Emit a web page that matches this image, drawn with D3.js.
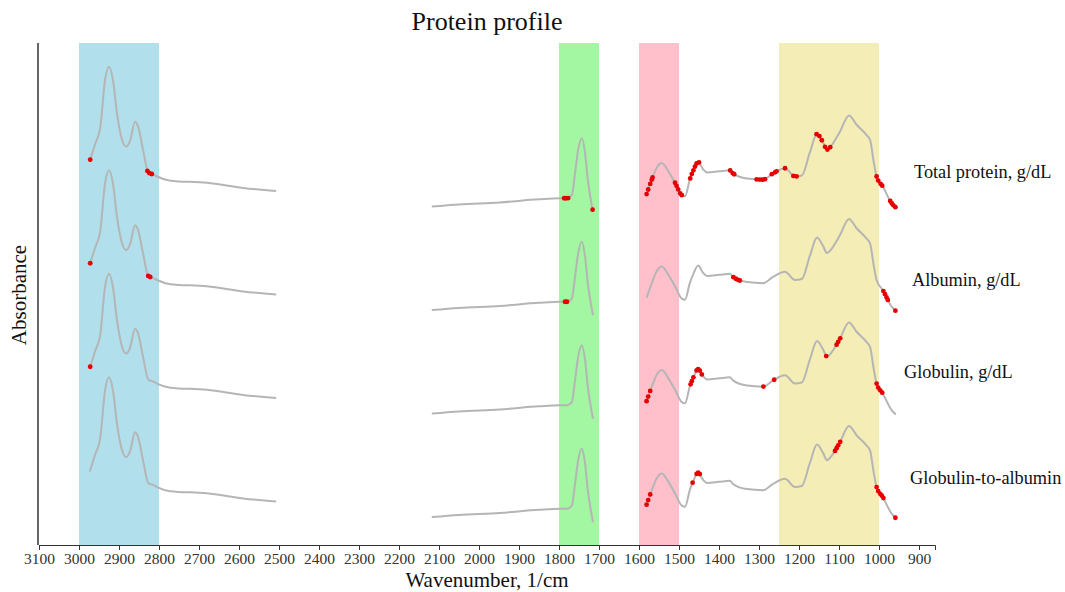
<!DOCTYPE html>
<html>
<head>
<meta charset="utf-8">
<script src="https://cdn.jsdelivr.net/npm/d3@7"></script>
<style>
	body { margin: 0; background: #fff; }
	svg text { font-family: "Liberation Serif", "Times New Roman", serif; fill: #111; }
	.x_axis text { font-size: 15.5px; fill: #333; }
	.x_axis path, .x_axis line { stroke: #333; }
</style>
</head>
<body>
<svg id="viz"></svg>
<script>
/* data */
var seriesNames = ["Total protein, g/dL", "Albumin, g/dL", "Globulin, g/dL", "Globulin-to-albumin"];

// spectrum pieces (wavenumber, absorbance of the lowest trace)
var wnRegion1 = [2973, 2960, 2947, 2935, 2925, 2915, 2905, 2892, 2882, 2872, 2860, 2852, 2840, 2827, 2815, 2805, 2772, 2680, 2590, 2507];
var absRegion1 = [0.71, 0.87, 1.03, 1.49, 1.62, 1.49, 1.17, 0.91, 0.85, 0.91, 1.09, 1.04, 0.82, 0.60, 0.58, 0.56, 0.52, 0.50, 0.45, 0.42];

var wnRegion2 = [2118, 2050, 1948, 1850, 1798, 1780, 1768, 1760, 1752, 1743, 1735, 1728, 1715];
var absRegion2 = [0.27, 0.29, 0.31, 0.34, 0.35, 0.35, 0.38, 0.59, 0.82, 0.93, 0.79, 0.53, 0.22];

var wnRegion3 = [1581, 1568, 1555, 1543, 1525, 1510, 1493, 1485, 1473, 1464, 1452, 1440, 1430, 1400, 1373, 1365, 1330, 1290, 1265, 1235, 1210, 1193, 1173, 1155, 1140, 1130, 1123, 1098, 1075, 1056, 1031, 1022, 1014, 1006, 990, 968, 958];
var absRegion3 = [0.39, 0.53, 0.65, 0.69, 0.60, 0.50, 0.38, 0.37, 0.53, 0.62, 0.70, 0.63, 0.60, 0.61, 0.62, 0.59, 0.54, 0.53, 0.59, 0.64, 0.56, 0.57, 0.79, 0.97, 0.89, 0.82, 0.84, 0.99, 1.15, 1.06, 0.96, 0.91, 0.72, 0.56, 0.46, 0.30, 0.26];

// vertical offset of each trace (absorbance units)
var traceOffsets = [3, 2, 1, 0];

// highlighted wavenumbers per series
var dotsTotal = [2972, 2829, 2824, 2818, 1787, 1782, 1777, 1716, 1581, 1577, 1572, 1568, 1566, 1510, 1506, 1502, 1497, 1493, 1472, 1468, 1464, 1460, 1456, 1450, 1372, 1366, 1362, 1306, 1298, 1291, 1285, 1268, 1260, 1256, 1235, 1214, 1206, 1156, 1149, 1143, 1135, 1129, 1122, 1006, 1002, 996, 992, 972, 968, 964, 959];
var dotsAlbumin = [2972, 2827, 2822, 1785, 1780, 1364, 1358, 1352, 1348, 989, 985, 981, 978, 959];
var dotsGlobulin = [2972, 1581, 1577, 1572, 1471, 1468, 1464, 1456, 1452, 1448, 1443, 1289, 1262, 1132, 1106, 1102, 1097, 1006, 1002, 997, 992];
var dotsRatio = [1581, 1577, 1572, 1466, 1456, 1452, 1448, 1110, 1106, 1102, 1097, 1006, 1002, 997, 993, 989, 959];
var dotSets = [dotsTotal, dotsAlbumin, dotsGlobulin, dotsRatio];

// shaded bands [from, to]
var bandRanges = [[3000, 2800], [1800, 1700], [1600, 1500], [1250, 1000]];
var bandColors = ["#b2dfec", "#a3f7a3", "#ffc0cb", "#f4edb5"];

var xTicks = d3.range(3100, 899, -100);

/* layout */
var margin = { top: 43, right: 130, bottom: 47, left: 38 },
	W = 1065, H = 592,
	plotRight = W - margin.right,
	plotBottom = H - margin.bottom;
var labelPos = [[914, 172], [912, 280], [904, 372], [910, 478]];

var svg = d3.select('#viz')
	.attr('width', W)
	.attr('height', H);

var x = d3.scaleLinear()
	.domain([3100, 860])
	.range([margin.left + 1, plotRight]);

var y = d3.scaleLinear()
	.domain([0, 4.85])
	.range([plotBottom, margin.top]);

// bands
svg.append("g").selectAll("rect")
	.data(bandRanges)
	.enter().append("rect")
	.attr("x", function(d){ return x(d[0]); })
	.attr("width", function(d){ return x(d[1]) - x(d[0]); })
	.attr("y", margin.top)
	.attr("height", plotBottom - margin.top)
	.attr("fill", function(d, i){ return bandColors[i]; });

var regions = [
	d3.zip(wnRegion1, absRegion1),
	d3.zip(wnRegion2, absRegion2),
	d3.zip(wnRegion3, absRegion3)
];

var line = d3.line()
	.curve(d3.curveMonotoneX);

// find y on a drawn path for a given pixel x
var yOnPath = function(node, px){
	var lo = 0, hi = node.getTotalLength();
	for (var k = 0; k < 40; k++) {
		var mid = (lo + hi) / 2;
		if (node.getPointAtLength(mid).x < px) lo = mid; else hi = mid;
	}
	return node.getPointAtLength((lo + hi) / 2).y;
}

var traces = svg.append("g").attr("class", "traces");

traceOffsets.forEach(function(off, i){
	var g = traces.append("g");
	var paths = regions.map(function(reg){
		return g.append("path")
			.attr("d", line(reg.map(function(p){ return [x(p[0]), y(p[1] + off)]; })))
			.attr("fill", "none")
			.attr("stroke", "#b5b5b5")
			.attr("stroke-width", 2)
			.node();
	});

	var dots = dotSets[i].map(function(w){
		var r = w > 2400 ? 0 : (w > 1650 ? 1 : 2);
		var px = x(w);
		return [px, yOnPath(paths[r], px)];
	});

	g.selectAll("circle")
		.data(dots)
		.enter().append("circle")
		.attr("cx", function(d){ return d[0]; })
		.attr("cy", function(d){ return d[1]; })
		.attr("r", 2.4)
		.attr("fill", "#e60000");
});

// axes
var xAxis = d3.axisBottom(x)
	.tickValues(xTicks)
	.tickFormat(d3.format("d"))
	.tickSizeOuter(0)
	.tickSize(5)
	.tickPadding(3);

svg.append("g")
	.attr("class", "x_axis")
	.attr("transform", "translate(0," + plotBottom + ")")
	.call(xAxis);

svg.append("line")
	.attr("x1", margin.left).attr("x2", margin.left)
	.attr("y1", margin.top).attr("y2", plotBottom)
	.attr("stroke", "#333")
	.attr("stroke-width", 1.5);

// texts
svg.append("text")
	.attr("x", 487).attr("y", 30)
	.attr("text-anchor", "middle")
	.style("font-size", "26px")
	.text("Protein profile");

svg.append("text")
	.attr("x", 487).attr("y", 587)
	.attr("text-anchor", "middle")
	.style("font-size", "21px")
	.text("Wavenumber, 1/cm");

svg.append("text")
	.attr("transform", "translate(26,295) rotate(-90)")
	.attr("text-anchor", "middle")
	.style("font-size", "21px")
	.text("Absorbance");

svg.append("g").selectAll("text")
	.data(seriesNames)
	.enter().append("text")
	.attr("x", function(d, i){ return labelPos[i][0]; })
	.attr("y", function(d, i){ return labelPos[i][1]; })
	.attr("dy", "0.35em")
	.style("font-size", "18.3px")
	.text(function(d){ return d; });
</script>
</body>
</html>
